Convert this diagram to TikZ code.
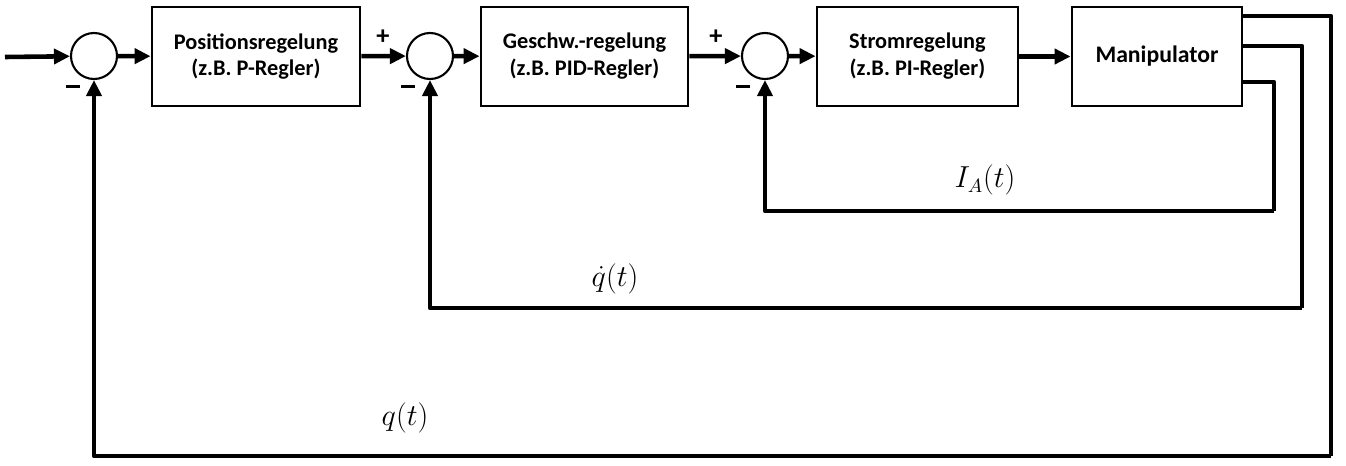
\documentclass[tikz,border=0pt]{standalone}
\usepackage{fontspec}
\setsansfont{Carlito}
\usetikzlibrary{arrows.meta}

\tikzset{
  block/.style={draw, line width=1.6pt, minimum height=1.98cm, align=center,
    font=\sffamily\bfseries\fontsize{12.7}{15.3}\selectfont},
  sumnode/.style={draw, circle, line width=1.2pt, minimum size=0.92cm, inner sep=0pt},
  sig/.style={line width=2.6pt, line join=round, -{Triangle[length=0.32cm, width=0.3cm]}},
  fb/.style={line width=2.6pt, line join=round},
  sign/.style={font=\sffamily\bfseries\fontsize{15}{15}\selectfont, inner sep=0pt},
  lab/.style={font=\fontsize{16}{18}\selectfont, inner sep=0pt}
}
\newcommand{\minussign}{\rule{0.27cm}{0.06cm}}

\begin{document}
\begin{tikzpicture}
\useasboundingbox (0,0) rectangle (26.92,-9.32);

\coordinate (in) at (0.1,-1.14);
\node[sumnode] (s1) at (1.88,-1.12) {};
\node[block, minimum width=4.16cm] (pos) at (5.12,-1.13) {Positionsregelung\\(z.B. P-Regler)};
\node[sumnode] (s2) at (8.6,-1.12) {};
\node[block, minimum width=4.14cm] (gesch) at (11.69,-1.13) {Geschw.-regelung\\(z.B. PID-Regler)};
\node[sumnode] (s3) at (15.3,-1.12) {};
\node[block, minimum width=4.02cm] (strom) at (18.35,-1.13) {Stromregelung\\(z.B. PI-Regler)};
\node[block, minimum width=3.4cm, font=\sffamily\bfseries\fontsize{13.5}{16}\selectfont] (man) at (23.14,-1.13) {Manipulator};

% signs at the summing points
\node[sign] (p2) at (7.66,-0.74) {+};
\node[sign] (p3) at (14.32,-0.74) {+};
\node[sign] (m1) at (1.46,-1.72) {\minussign};
\node[sign] (m2) at (8.16,-1.72) {\minussign};
\node[sign] (m3) at (14.86,-1.72) {\minussign};

% forward path
\draw[sig] (in) -- (s1);
\draw[sig] (s1) -- (pos);
\draw[sig] (pos) -- (s2);
\draw[sig] (s2) -- (gesch);
\draw[sig] (gesch) -- (s3);
\draw[sig] (s3) -- (strom);
\draw[sig] (strom) -- (man);

% feedback paths
\coordinate (o1) at (24.84,-0.32);
\coordinate (o2) at (24.84,-0.92);
\coordinate (o3) at (24.84,-1.64);
\coordinate (c1) at (26.62,-9.12);
\coordinate (c2) at (26.04,-6.16);
\coordinate (c3) at (25.48,-4.22);
\draw[fb] (o3) -| (c3);
\draw[sig] (c3) -| (s3);
\draw[fb] (o2) -| (c2);
\draw[sig] (c2) -| (s2);
\draw[fb] (o1) -| (c1);
\draw[sig] (c1) -| (s1);

\node[lab] (ia) at (19.7,-3.6) {$I_A(t)$};
\node[lab] (qd) at (12.3,-5.58) {$\dot{q}(t)$};
\node[lab] (q) at (8.1,-8.36) {$q(t)$};
\end{tikzpicture}
\end{document}
